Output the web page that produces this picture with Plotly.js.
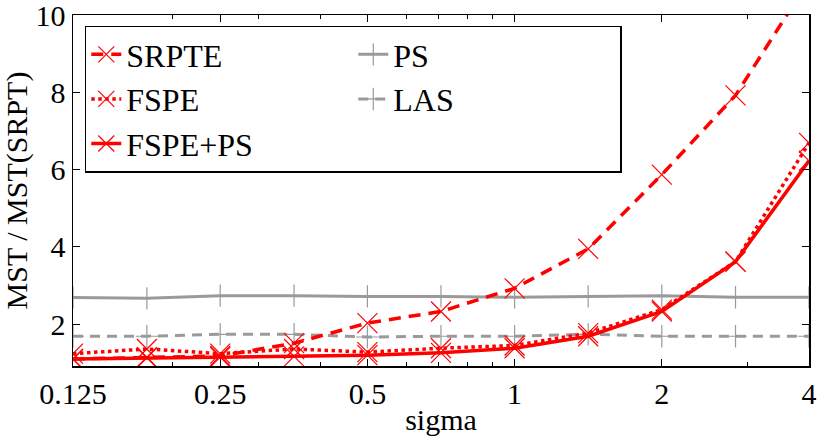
<!DOCTYPE html>
<html>
<head>
<meta charset="utf-8">
<script src="https://cdn.plot.ly/plotly-3.0.1.min.js"></script>
<style>body{margin:0;background:#fff}</style>
</head>
<body>
<div id="myDiv" style="width:818px;height:436px"></div>
<script>
var sigma = [0.125, 0.177, 0.25, 0.354, 0.5, 0.707, 1, 1.414, 2, 2.83, 4]

var srpte  = [1.10, 1.15, 1.18, 1.51, 2.03, 2.33, 2.93, 3.95, 5.87, 7.92, 10.9]
var fspe   = [1.24, 1.36, 1.24, 1.36, 1.28, 1.38, 1.45, 1.77, 2.38, 3.62, 6.69]
var fspeps = [1.10, 1.13, 1.15, 1.17, 1.20, 1.26, 1.38, 1.69, 2.33, 3.62, 6.23]
var ps     = [2.69, 2.67, 2.74, 2.74, 2.72, 2.72, 2.70, 2.72, 2.74, 2.70, 2.70]
var las    = [1.69, 1.69, 1.74, 1.74, 1.67, 1.69, 1.69, 1.74, 1.69, 1.69, 1.69]

var xticks = [0.125, 0.25, 0.5, 1, 2, 4]
var xticklabels = ['0.125', '0.25', '0.5', '1', '2', '4']
var xminor = [0.2, 0.3, 0.4, 0.6, 0.7, 0.8, 0.9, 3]
var yticks = [2, 4, 6, 8, 10]

var red = '#ff0000'
var gray = '#9a9a9a'

function redTrace(name, y, dash, rank) {
  return {
    x: sigma, y: y, name: name, type: 'scatter', mode: 'lines+markers',
    line: {color: red, width: 3.5, dash: dash},
    marker: {symbol: 'x-thin', size: 20, line: {color: red, width: 1.2}, color: red},
    legendrank: rank
  }
}
function grayTrace(name, y, dash, rank) {
  return {
    x: sigma, y: y, name: name, type: 'scatter', mode: 'lines+markers',
    line: {color: gray, width: 3, dash: dash},
    marker: {symbol: 'cross-thin', size: 16, line: {color: gray, width: 1.2}, color: gray},
    legendrank: rank
  }
}

var data = [
  grayTrace('PS', ps, 'solid', 2),
  grayTrace('LAS', las, '10px,7px', 4),
  redTrace('SRPTE', srpte, '12px,8px', 1),
  redTrace('FSPE', fspe, 'dot', 3),
  redTrace('FSPE+PS', fspeps, 'solid', 5)
]

var font = {family: 'Liberation Serif', size: 30, color: '#000'}

var layout = {
  width: 818, height: 436,
  margin: {l: 73, r: 9, t: 15, b: 70},
  paper_bgcolor: '#fff', plot_bgcolor: '#fff',
  font: font,
  showlegend: true,
  legend: {
    x: 0.016, y: 0.97, xanchor: 'left', yanchor: 'top',
    orientation: 'h', entrywidth: 222,
    bgcolor: '#fff', bordercolor: '#000', borderwidth: 1.5,
    font: {family: 'Liberation Serif', size: 32, color: '#000'}
  },
  xaxis: {
    type: 'log',
    range: [Math.log10(0.125), Math.log10(4)],
    tickvals: xticks, ticktext: xticklabels,
    ticks: 'inside', ticklen: 7, tickwidth: 1, tickcolor: '#000',
    minor: {tickvals: xminor, ticks: 'inside', ticklen: 4, tickcolor: '#000'},
    showline: true, linecolor: '#000', linewidth: 1.5, mirror: 'ticks',
    showgrid: false, zeroline: false,
    tickfont: font, ticklabeloverflow: 'allow',
    title: {text: 'sigma', font: font, standoff: 0}
  },
  yaxis: {
    range: [0.92, 10],
    tickvals: yticks,
    ticks: 'inside', ticklen: 7, tickwidth: 1, tickcolor: '#000',
    showline: true, linecolor: '#000', linewidth: 1.5, mirror: 'ticks',
    showgrid: false, zeroline: false,
    tickfont: font, ticklabeloverflow: 'allow',
    title: {text: 'MST / MST(SRPT)', font: font, standoff: 4}
  }
}

Plotly.newPlot('myDiv', data, layout, {displayModeBar: false, staticPlot: true})
</script>
</body>
</html>
